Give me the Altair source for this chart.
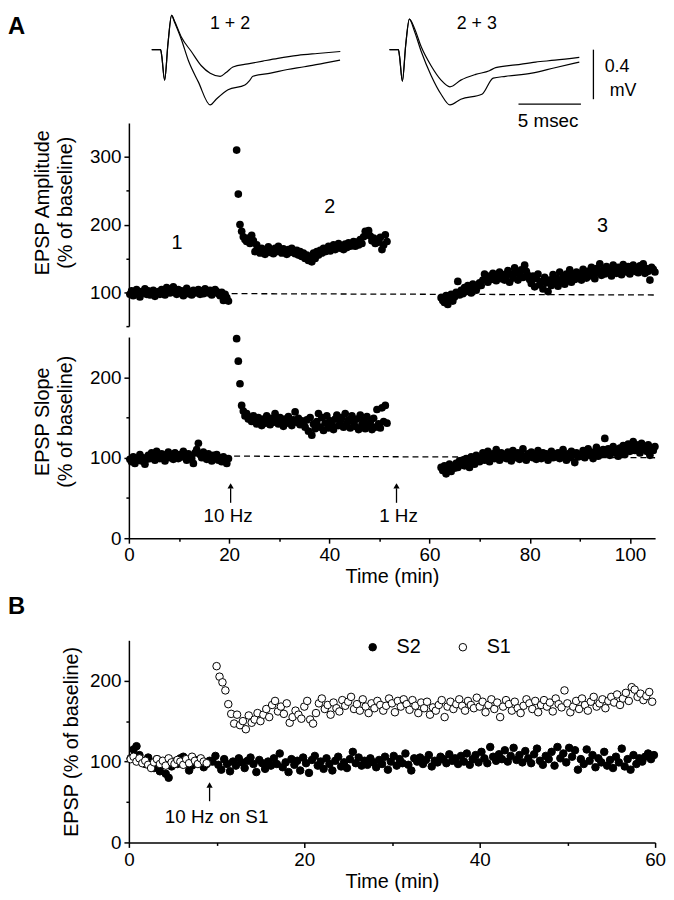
import altair as alt
import pandas as pd

FONT = "Liberation Sans"

# ---------------- Panel A inset traces (ms, mV relative to baseline) ----------------
tr_start = [1.83, 20.87]          # where each trace pair begins on the inset time axis (ms)
tr_labels = ["1 + 2", "2 + 3"]
tr_label_t = [8.1, 27.86]
tr_label_v = [0.208, 0.208]

tr1_common_t = [0, 0.71, 0.8, 1.03, 1.3, 1.59]
tr1_common_v = [0, 0, -0.05, -0.246, 0.05, 0.277]
tr1_up_t = [1.83, 2.38, 3.17, 3.97, 4.68, 5.48, 5.95, 6.5, 7.7, 8.9, 10.1, 11.7, 13.25, 15.1]
tr1_up_v = [0.23, 0.10, -0.015, -0.13, -0.19, -0.215, -0.185, -0.14, -0.115, -0.092, -0.07, -0.046, -0.031, -0.015]
tr1_lo_t = [1.83, 2.38, 2.94, 3.73, 4.68, 5.16, 6.11, 7.46, 7.86, 8.1, 9.52, 10.87, 12.22, 13.81, 15.08]
tr1_lo_v = [0.22, 0.08, -0.09, -0.26, -0.446, -0.4, -0.323, -0.285, -0.246, -0.215, -0.19, -0.16, -0.138, -0.108, -0.085]

tr2_common_t = [0, 0.71, 0.8, 1.03, 1.3, 1.59]
tr2_common_v = [0, 0, -0.05, -0.254, 0.04, 0.246]
tr2_up_t = [1.98, 2.54, 3.33, 4.13, 4.84, 5.71, 6.9, 8.0, 8.5, 10.1, 11.7, 13.25, 15.2]
tr2_up_v = [0.177, 0.023, -0.13, -0.246, -0.3, -0.246, -0.2, -0.17, -0.145, -0.123, -0.1, -0.085, -0.062]
tr2_lo_t = [1.98, 2.54, 3.33, 4.13, 4.84, 5.71, 7.4, 8.3, 9.3, 11.4, 13.25, 15.2]
tr2_lo_v = [0.154, -0.015, -0.208, -0.36, -0.446, -0.4, -0.36, -0.23, -0.215, -0.19, -0.146, -0.1]

# scale bars: 5 msec, 0.4 mV
sb_x = [37.2, 31.2]
sb_x2 = [37.2, 36.2]
sb_y = [0.0, -0.44]
sb_y2 = [-0.4, -0.44]
sb_text = ["0.4", "mV", "5 msec"]
sb_text_t = [38.1, 38.5, 33.57]
sb_text_v = [-0.144, -0.336, -0.576]
sb_text_align = ["left", "left", "center"]

# ---------------- Panel A time courses (sampled every 1/3 min) ----------------
seg_start = [0.2, 21.5, 62.3]

amp1 = [97, 102, 95, 100, 104, 98, 93, 101, 99, 105, 97, 102, 96, 100, 103, 94, 99, 101, 97, 104,
        100, 96, 107, 103, 99, 105, 108, 101, 97, 104, 99, 102, 95, 100, 106, 98, 101, 96, 103, 99,
        100, 104, 97, 102, 98, 105, 101, 99, 103, 96, 100, 104, 101, 98, 95, 100, 88, 97, 92, 87]
amp2 = [310, 245, 200, 190, 182, 178, 175, 180, 172, 184, 176, 160, 170, 163,
        158, 165, 161, 156, 163, 167, 159, 162, 157, 165, 160, 168, 162, 158, 164, 160, 156, 163, 159,
        165, 161, 157, 162, 155, 160, 153, 158,
        150, 155, 147, 152, 145, 158, 150,
        160, 155, 162, 158, 165, 160, 163, 168, 161, 166, 170, 163, 167, 172, 165, 169, 163, 171, 166,
        173, 168, 171, 175,
        168, 174, 170, 178, 172, 182, 190, 185, 191, 183, 176, 180, 172, 178, 174, 181, 163, 170, 185, 175]
amp3 = [92, 88, 85, 95, 82, 90, 97, 87, 93,
        100, 116, 96, 103, 98, 107, 101, 110, 104, 99, 112, 106, 103, 109, 114,
        110, 118, 127, 121, 115, 124, 119, 128, 122, 117, 125, 130, 120, 126, 118,
        124, 132, 115, 127, 121, 136, 129, 118, 126, 133, 122, 140, 131, 125, 119,
        113, 124, 108, 120, 127, 111, 116, 105, 122, 114, 101, 118, 110, 126, 115,
        121, 109, 130, 117, 124, 112, 127, 120, 133, 115, 125, 119, 130, 122, 127,
        118, 134, 126, 121, 131, 124, 137, 128, 120, 135, 129, 142, 125, 133, 127,
        138, 130, 135, 124, 140, 132, 128, 137, 133, 126, 141, 135, 130, 138, 127,
        134, 140, 131, 136, 129, 139, 133, 142, 128, 135, 131, 118, 137, 134, 130]

slope1 = [98, 95, 101, 93, 99, 97, 104, 96, 100, 92, 98, 103, 99, 106, 101, 97, 108, 103, 99, 105,
          101, 96, 104, 107, 100, 103, 98, 106, 102, 99, 104, 101, 108, 103, 97, 105, 102, 99, 93, 106,
          110, 118, 104, 100, 107, 102, 98, 105, 101, 96, 103, 99, 104, 97, 100, 95, 101, 98, 93, 99]
slope2 = [248, 220, 192, 165, 158, 152, 155, 148, 150, 145, 152, 147, 142, 150,
          145, 140, 148, 143, 152, 146, 141, 149, 144, 155, 147, 142, 150, 145, 139, 148, 143, 151, 146,
          140, 147, 157, 144, 149, 141, 146, 143,
          138, 147, 133, 150, 128, 142, 136,
          145, 155, 138, 150, 134, 143, 152, 137, 146, 141, 135, 148, 153, 140, 145, 150, 138, 155, 143,
          147, 137, 152, 144,
          139, 148, 135, 153, 141, 146, 136, 151, 140, 144, 135, 149, 138, 160, 142, 137, 162, 145, 165, 143]
slope3 = [88, 84, 90, 80, 86, 92, 83, 89, 87,
          93, 88, 96, 91, 97, 90, 99, 94, 88, 101, 96, 92, 103, 98, 95,
          100, 106, 97, 103, 108, 95, 101, 105, 99, 110, 103, 97, 106, 101, 104,
          99, 107, 102, 96, 109, 103, 100, 106, 98, 104, 111, 101, 97, 105, 102,
          107, 100, 104, 98, 109, 103, 99, 106, 101, 105, 97, 102, 108, 100, 104,
          101, 106, 99, 104, 110, 102, 97, 105, 100, 108, 103, 94, 106, 101, 104,
          102, 109, 100, 105, 111, 103, 107, 99, 106, 113, 102, 108, 104, 110, 124,
          105, 111, 103, 108, 114, 106, 109, 102, 112, 107, 115, 104, 110, 117, 108,
          113, 120, 109, 116, 111, 106, 118, 112, 114, 108, 116, 103, 112, 109, 114]

amp_base = [98, 96]        # dashed baseline at t = 20.5 and 105
slope_base = [102, 100]    # dashed baseline at t = 21 and 105
amp_labels = ["1", "2", "3"]
amp_label_t = [9.6, 40.1, 94.5]
amp_label_v = [172, 226, 198]

arrowA_t = [20.3, 53.4]
arrowA_text = ["10 Hz", "1 Hz"]
arrowA_text_t = [19.8, 53.8]

# ---------------- Panel B ----------------
b_s2_start = 0.2
b_s1_starts = [0.2, 10.0]
s2 = [104, 115, 119, 108, 101, 97, 105, 99, 92, 103, 88, 96, 85, 80, 94,
      100, 97, 104, 106, 99, 89, 95, 102, 98, 100, 93, 97, 101, 100, 107,
      96, 90, 103, 97, 88, 100, 95, 104, 99, 92, 101, 105, 97, 87, 102,
      98, 91, 100, 95, 104, 97, 110, 93, 99, 87, 103, 96, 101, 89, 105,
      98, 86, 102, 107, 95, 100, 91, 104, 97, 89, 101, 106, 94, 99, 92,
      103, 112, 98, 105, 95, 101, 96, 104, 99, 93, 102, 97, 106, 90, 100,
      107, 95, 103, 98, 110, 96, 89, 104, 100, 105, 97, 102, 108, 94, 101,
      99, 106, 103, 98, 109, 101, 104, 97, 107, 100, 110, 96, 103, 108, 99,
      112, 104, 98, 118, 106, 101, 109, 103, 114, 100, 107, 117, 102, 108, 99,
      113, 104, 98, 109, 116, 101, 96, 107, 103, 112, 95, 118, 104, 110, 99,
      117, 106, 114, 90, 103, 97, 115, 101, 108, 93, 104, 99, 112, 95, 102,
      92, 106, 99, 116, 94, 103, 90, 108, 97, 104, 100, 106, 110, 103, 108]
s1_base = [103, 106, 100, 104, 98, 101, 96, 92, 99, 103, 97, 101, 95, 104, 99,
           97, 102, 100, 96, 103, 98, 106, 101, 97, 104, 100, 98]
s1_post = [218, 205, 198, 188, 171, 159, 147, 158, 145, 150, 140, 157, 148, 152, 160,
           150, 158, 165, 155, 170, 175, 162, 168, 159, 172, 148, 155, 163, 158, 153,
           168, 175, 152, 147, 160, 172, 178, 165, 170, 158, 173, 166, 162, 176, 169,
           174, 180, 165, 171, 163, 177, 168, 160, 172, 166, 175, 170, 163, 169, 178,
           172, 161, 175, 168, 177, 171, 164, 176, 169, 160, 173, 166, 174, 158, 167,
           163, 170, 176, 155, 168, 174, 165, 171, 177, 169, 163, 175, 170, 166, 179,
           168, 174, 161, 170, 177, 165, 173, 155, 168, 176, 171, 163, 174, 166, 160,
           169, 177, 172, 165, 175, 161, 170, 176, 168, 173, 162, 178, 171, 167, 188,
           172, 161, 168, 175, 165, 178, 170, 163, 174, 180, 168, 172, 177, 166, 175,
           180, 173, 183, 170, 178, 185, 175, 192, 189, 180, 184, 176, 181, 186, 174]
arrowB_t = [9.2]
arrowB_text = ["10 Hz on S1"]
arrowB_text_t = [10.0]


def times(start, n, step=1 / 3):
    return [round(start + k * step, 3) for k in range(n)]


# ---------------- build tables ----------------
rows = []
for name, st, ct, cv, branches in [
    ("T1", tr_start[0], tr1_common_t, tr1_common_v, [("u", tr1_up_t, tr1_up_v), ("l", tr1_lo_t, tr1_lo_v)]),
    ("T2", tr_start[1], tr2_common_t, tr2_common_v, [("u", tr2_up_t, tr2_up_v), ("l", tr2_lo_t, tr2_lo_v)]),
]:
    for b, bt, bv in branches:
        ts = ct + bt
        vs = cv + bv
        for i, (t, v) in enumerate(zip(ts, vs)):
            rows.append({"t": st + t, "v": v, "g": name + b, "o": i})
trace_df = pd.DataFrame(rows)
trlab_df = pd.DataFrame({"t": tr_label_t, "v": tr_label_v, "txt": tr_labels})
sb_df = pd.DataFrame({"x": sb_x, "x2": sb_x2, "y": sb_y, "y2": sb_y2})
sbt_df = pd.DataFrame({"t": sb_text_t, "v": sb_text_v, "txt": sb_text, "al": sb_text_align})

tA = times(seg_start[0], len(amp1)) + times(seg_start[1], len(amp2)) + times(seg_start[2], len(amp3))
ampA = pd.DataFrame({"t": tA, "v": amp1 + amp2 + amp3})
tS = times(seg_start[0], len(slope1)) + times(seg_start[1], len(slope2)) + times(seg_start[2], len(slope3))
slpA = pd.DataFrame({"t": tS, "v": slope1 + slope2 + slope3})
amp_dash = pd.DataFrame({"t": [20.5, 105], "v": amp_base})
slp_dash = pd.DataFrame({"t": [21, 105], "v": slope_base})
amp_lab = pd.DataFrame({"t": amp_label_t, "v": amp_label_v, "txt": amp_labels})
arrA = pd.DataFrame({"t": arrowA_t, "y0": [44] * 2, "y1": [62] * 2, "yh": [65] * 2,
                     "tt": arrowA_text_t, "ty": [27] * 2, "txt": arrowA_text})

dfB = pd.DataFrame({
    "t": times(b_s2_start, len(s2)) + times(b_s1_starts[0], len(s1_base)) + times(b_s1_starts[1], len(s1_post)),
    "v": s2 + s1_base + s1_post,
    "s": ["S2"] * len(s2) + ["S1"] * (len(s1_base) + len(s1_post)),
})
arrB = pd.DataFrame({"t": arrowB_t, "y0": [51], "y1": [68], "yh": [71],
                     "tt": arrowB_text_t, "ty": [31], "txt": arrowB_text})

W = 531

# ---------------- traces chart ----------------
xT = alt.X("t:Q", scale=alt.Scale(domain=[0, 42.14], nice=False, zero=False), axis=None)
yT = alt.Y("v:Q", scale=alt.Scale(domain=[-0.504, 0.28], nice=False, zero=False), axis=None)
tr_lines = alt.Chart(trace_df).mark_line(color="black", strokeWidth=1.2, interpolate="monotone").encode(
    x=xT, y=yT, detail="g:N", order="o:Q")
tr_text = alt.Chart(trlab_df).mark_text(fontSize=18, color="black").encode(x=xT, y=yT, text="txt:N")
sb_rules = alt.Chart(sb_df).mark_rule(color="black", strokeWidth=1.3).encode(
    x=alt.X("x:Q", scale=alt.Scale(domain=[0, 42.14], nice=False, zero=False), axis=None),
    x2="x2:Q",
    y=alt.Y("y:Q", scale=alt.Scale(domain=[-0.504, 0.28], nice=False, zero=False), axis=None),
    y2="y2:Q")
sb_t_left = alt.Chart(sbt_df[sbt_df["al"] == "left"]).mark_text(fontSize=18, align="left", color="black").encode(
    x=xT, y=yT, text="txt:N")
sb_t_center = alt.Chart(sbt_df[sbt_df["al"] == "center"]).mark_text(fontSize=19, align="center", color="black").encode(
    x=xT, y=yT, text="txt:N")
panelA_lab = alt.Chart(pd.DataFrame({"lab": ["A"]})).mark_text(
    fontSize=24, fontWeight="bold", align="left", baseline="middle", color="black").encode(
    x=alt.value(-122), y=alt.value(12), text="lab:N")
traces = alt.layer(tr_lines, sb_rules, tr_text, sb_t_left, sb_t_center, panelA_lab).properties(width=W, height=98)


def tick_cond(mod, big=5, small=3):
    return {"condition": {"test": f"datum.value % {mod} === 0", "value": big}, "value": small}


def lab_expr(mod):
    return f"datum.value % {mod} === 0 ? datum.label : ''"


xA_scale = alt.Scale(domain=[0, 105], nice=False, zero=False)

# ---------------- amplitude chart ----------------
yAmp = alt.Y("v:Q", scale=alt.Scale(domain=[50, 350], nice=False, zero=False),
             axis=alt.Axis(values=[50, 100, 150, 200, 250, 300], labelExpr=lab_expr(100),
                           tickSize=tick_cond(100), title=["EPSP Amplitude", "(% of baseline)"],
                           titlePadding=14, titleLineHeight=23, titleY=80))
amp_pts = alt.Chart(ampA).mark_circle(size=60, color="black", opacity=1).encode(
    x=alt.X("t:Q", scale=xA_scale, axis=None), y=yAmp)
amp_line = alt.Chart(amp_dash).mark_line(color="black", strokeWidth=1.3, strokeDash=[6, 4]).encode(
    x=alt.X("t:Q", scale=xA_scale, axis=None), y=yAmp)
amp_txt = alt.Chart(amp_lab).mark_text(fontSize=20, color="black").encode(
    x=alt.X("t:Q", scale=xA_scale, axis=None), y=yAmp, text="txt:N")
amp_chart = alt.layer(amp_line, amp_pts, amp_txt).properties(width=W, height=205)

# ---------------- slope chart ----------------
xSl = alt.X("t:Q", scale=xA_scale,
            axis=alt.Axis(values=list(range(0, 101, 10)), labelExpr=lab_expr(20), tickSize=tick_cond(20),
                          title="Time (min)", labelFlush=False, titlePadding=2))
ySl = alt.Y("v:Q", scale=alt.Scale(domain=[0, 250], nice=False, zero=False),
            axis=alt.Axis(values=[0, 50, 100, 150, 200], labelExpr=lab_expr(100),
                          tickSize=tick_cond(100), title=["EPSP Slope", "(% of baseline)"],
                          titlePadding=14, titleLineHeight=23, titleY=85))
sl_pts = alt.Chart(slpA).mark_circle(size=60, color="black", opacity=1).encode(x=xSl, y=ySl)
sl_line = alt.Chart(slp_dash).mark_line(color="black", strokeWidth=1.3, strokeDash=[6, 4]).encode(x=xSl, y=ySl)
arr_rule = alt.Chart(arrA).mark_rule(color="black", strokeWidth=1.3).encode(x=xSl, y=alt.Y("y0:Q", scale=alt.Scale(domain=[0, 250], nice=False, zero=False)), y2="y1:Q")
arr_head = alt.Chart(arrA).mark_point(shape="triangle-up", filled=True, size=40, color="black", opacity=1).encode(
    x=xSl, y=alt.Y("yh:Q", scale=alt.Scale(domain=[0, 250], nice=False, zero=False)))
arr_txt = alt.Chart(arrA).mark_text(fontSize=19, color="black").encode(
    x=alt.X("tt:Q", scale=xA_scale), y=alt.Y("ty:Q", scale=alt.Scale(domain=[0, 250], nice=False, zero=False)),
    text="txt:N")
slope_chart = alt.layer(sl_line, sl_pts, arr_rule, arr_head, arr_txt).properties(width=W, height=203)

# ---------------- spacer with panel label B ----------------
spacer = alt.Chart(pd.DataFrame({"lab": ["B"]})).mark_text(
    fontSize=24, fontWeight="bold", align="left", baseline="middle", color="black").encode(
    x=alt.value(-122), y=alt.value(58), text="lab:N").properties(width=W, height=81)

# ---------------- panel B chart ----------------
xB_scale = alt.Scale(domain=[0, 60], nice=False, zero=False)
yB_scale = alt.Scale(domain=[0, 250], nice=False, zero=False)
xB = alt.X("t:Q", scale=xB_scale,
           axis=alt.Axis(values=list(range(0, 61, 10)), labelExpr=lab_expr(20), tickSize=tick_cond(20),
                         title="Time (min)", labelFlush=False, titlePadding=2))
yB = alt.Y("v:Q", scale=yB_scale,
           axis=alt.Axis(values=[0, 50, 100, 150, 200], labelExpr=lab_expr(100),
                         tickSize=tick_cond(100), title="EPSP (% of baseline)", titlePadding=8))
b_pts = alt.Chart(dfB).mark_point(shape="circle", filled=True, size=58, stroke="black",
                                   strokeWidth=1, opacity=1).encode(
    x=xB, y=yB,
    fill=alt.Fill("s:N", scale=alt.Scale(domain=["S2", "S1"], range=["black", "white"]),
                  legend=alt.Legend(title=None, orient="none", legendX=236, legendY=628,
                                    direction="horizontal", symbolType="circle", symbolSize=58,
                                    symbolStrokeColor="black", symbolStrokeWidth=1,
                                    labelFontSize=20, labelFont=FONT, labelColor="black",
                                    labelOffset=14, columnPadding=32, padding=0)))
b_rule = alt.Chart(arrB).mark_rule(color="black", strokeWidth=1.3).encode(
    x=alt.X("t:Q", scale=xB_scale), y=alt.Y("y0:Q", scale=yB_scale), y2="y1:Q")
b_head = alt.Chart(arrB).mark_point(shape="triangle-up", filled=True, size=40, color="black", opacity=1).encode(
    x=alt.X("t:Q", scale=xB_scale), y=alt.Y("yh:Q", scale=yB_scale))
b_txt = alt.Chart(arrB).mark_text(fontSize=19, color="black").encode(
    x=alt.X("tt:Q", scale=xB_scale), y=alt.Y("ty:Q", scale=yB_scale), text="txt:N")
b_chart = alt.layer(b_pts, b_rule, b_head, b_txt).properties(width=W, height=204)

chart = alt.vconcat(traces, amp_chart, slope_chart, spacer, b_chart, spacing=11, bounds="flush").properties(
    padding=0
).configure_view(stroke=None).configure_axis(
    domainColor="black", domainWidth=1.5, tickColor="black", tickWidth=1.5,
    labelColor="black", titleColor="black", labelFont=FONT, titleFont=FONT,
    labelFontSize=19, titleFontSize=20, titleFontWeight="normal", grid=False, labelPadding=3
).configure_text(font=FONT)

chart.save("out.html", embed_options={"renderer": "svg", "actions": False})
